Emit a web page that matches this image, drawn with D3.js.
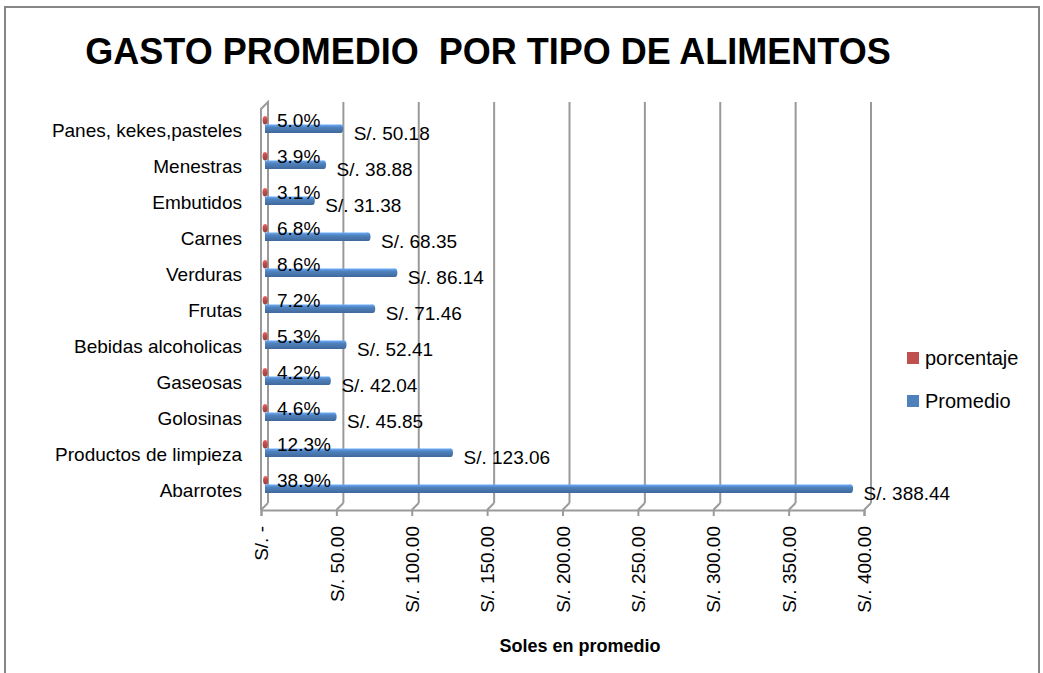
<!DOCTYPE html>
<html lang="es">
  <head>
    <meta charset="UTF-8" />
    <title>Gasto promedio por tipo de alimentos</title>
    <script src="https://d3js.org/d3.v7.min.js"></script>
    <style>
      body { margin: 0; background: #fff; }
      svg { display: block; font-family: "Liberation Sans", Arial, sans-serif; }
    </style>
  </head>
  <body>
    <svg></svg>
    <script>
      // data
      const categories = [
        "Panes, kekes,pasteles", "Menestras", "Embutidos", "Carnes", "Verduras",
        "Frutas", "Bebidas alcoholicas", "Gaseosas", "Golosinas",
        "Productos de limpieza", "Abarrotes"
      ];
      const promedio = [50.18, 38.88, 31.38, 68.35, 86.14, 71.46, 52.41, 42.04, 45.85, 123.06, 388.44];
      const porcentaje = [0.050, 0.039, 0.031, 0.068, 0.086, 0.072, 0.053, 0.042, 0.046, 0.123, 0.389];
      const seriesNames = ["porcentaje", "Promedio"];
      const seriesColors = ["#c0504d", "#4f81bd"];
      const xTicks = [0, 50, 100, 150, 200, 250, 300, 350, 400];

      let width = 1043,
        height = 673;
      let depth = 7; // fake 3d offset

      let svg = d3.select("svg").attr("width", width).attr("height", height);

      // outer frame
      svg.append("rect")
        .attr("x", 5).attr("y", 7)
        .attr("width", 1034).attr("height", 700)
        .attr("fill", "none").attr("stroke", "#868686").attr("stroke-width", 2);

      svg.append("text")
        .attr("x", 488).attr("y", 64)
        .attr("text-anchor", "middle")
        .attr("font-size", 36).attr("font-weight", "bold")
        .attr("fill", "#000")
        .style("white-space", "pre")
        .text("GASTO PROMEDIO  POR TIPO DE ALIMENTOS");

      let x = d3.scaleLinear().domain([0, 400]).range([265, 868]);
      let y = d3.scaleBand().domain(categories).range([106, 502]);
      let ySub = d3.scaleBand().domain(seriesNames).range([10, 27]);

      let back = (v) => x(v) + 3;
      let front = (v) => x(v) - 4;
      let wallTop = 102, wallBottom = 503, floorY = wallBottom + depth;

      let grid = svg.append("g").attr("stroke", "#9a9a9a").attr("stroke-width", 2).attr("fill", "none");

      // gridlines on back wall
      grid.selectAll(".gl").data(xTicks.slice(1)).enter().append("line")
        .attr("x1", back).attr("x2", back)
        .attr("y1", wallTop).attr("y2", wallBottom);

      // floor diagonals
      grid.selectAll(".dg").data(xTicks).enter().append("line")
        .attr("x1", back).attr("y1", wallBottom)
        .attr("x2", front).attr("y2", floorY);

      // left side wall
      grid.append("path")
        .attr("d", "M" + front(0) + "," + floorY + "V" + (wallTop + depth) +
          "L" + back(0) + "," + wallTop + "V" + wallBottom);

      // front axis with ticks
      let xAxis = d3.axisBottom(d3.scaleLinear().domain([0, 400]).range([front(0), front(400)]))
        .tickValues(xTicks)
        .tickSize(6)
        .tickFormat((d) => (d === 0 ? "S/. -" : "S/. " + d3.format(".2f")(d)));

      let ax = svg.append("g")
        .attr("transform", "translate(0," + floorY + ")")
        .call(xAxis);
      ax.select(".domain").attr("stroke", "#9a9a9a").attr("stroke-width", 2);
      ax.selectAll(".tick line").attr("stroke", "#9a9a9a").attr("stroke-width", 2);
      ax.selectAll(".tick text")
        .attr("font-size", 19)
        .attr("font-family", "Liberation Sans, Arial, sans-serif")
        .attr("fill", "#000")
        .attr("text-anchor", "end")
        .attr("transform", "rotate(-90)")
        .attr("x", -16)
        .attr("y", 0)
        .attr("dy", "0.35em");

      svg.append("text")
        .attr("x", 580).attr("y", 652)
        .attr("text-anchor", "middle")
        .attr("font-size", 18).attr("font-weight", "bold")
        .text("Soles en promedio");

      // category labels
      svg.append("g").selectAll("text").data(categories).enter().append("text")
        .attr("x", 242)
        .attr("y", (d) => y(d) + 24)
        .attr("dy", "0.35em")
        .attr("text-anchor", "end")
        .attr("font-size", 19)
        .text((d) => d);

      let defs = svg.append("defs");
      seriesColors.forEach((c, i) => {
        let g = defs.append("linearGradient").attr("id", "grad" + i)
          .attr("x1", 0).attr("x2", 0).attr("y1", 0).attr("y2", 1);
        g.append("stop").attr("offset", "0%").attr("stop-color", d3.color(c).brighter(0.8));
        g.append("stop").attr("offset", "35%").attr("stop-color", c);
        g.append("stop").attr("offset", "100%").attr("stop-color", d3.color(c).darker(0.6));
      });

      let series = [porcentaje, promedio];
      series.forEach((vals, i) => {
        let name = seriesNames[i];
        let g = svg.append("g");
        let rows = categories.map((c, j) => ({ cat: c, v: vals[j] }));
        g.selectAll("rect").data(rows).enter().append("rect")
          .attr("x", x(0))
          .attr("y", (d) => y(d.cat) + ySub(name))
          .attr("width", (d) => x(d.v) - x(0))
          .attr("height", ySub.bandwidth())
          .attr("fill", "url(#grad" + i + ")");
        // rounded end cap
        g.selectAll("ellipse").data(rows).enter().append("ellipse")
          .attr("cx", (d) => x(d.v))
          .attr("cy", (d) => y(d.cat) + ySub(name) + ySub.bandwidth() / 2)
          .attr("rx", 2.5)
          .attr("ry", ySub.bandwidth() / 2)
          .attr("fill", "url(#grad" + i + ")");
      });

      // percentage labels
      svg.append("g").selectAll("text").data(porcentaje).enter().append("text")
        .attr("x", x(0) + 12)
        .attr("y", (d, j) => y(categories[j]) + ySub("porcentaje") + ySub.bandwidth() / 2)
        .attr("dy", "0.35em")
        .attr("font-size", 19)
        .text((d) => d3.format(".1%")(d));

      // value labels
      svg.append("g").selectAll("text").data(promedio).enter().append("text")
        .attr("x", (d) => x(d) + 13)
        .attr("y", (d, j) => y(categories[j]) + ySub("Promedio") + ySub.bandwidth() / 2 + 5)
        .attr("dy", "0.35em")
        .attr("font-size", 19)
        .text((d) => "S/. " + d3.format(".2f")(d));

      // legend
      let legend = svg.append("g").attr("transform", "translate(907,352)");
      seriesNames.forEach((n, i) => {
        legend.append("rect")
          .attr("x", 0).attr("y", i * 43)
          .attr("width", 12).attr("height", 12)
          .attr("fill", seriesColors[i]);
        legend.append("text")
          .attr("x", 18).attr("y", i * 43 + 6)
          .attr("dy", "0.35em")
          .attr("font-size", 20)
          .text(n);
      });
    </script>
  </body>
</html>
